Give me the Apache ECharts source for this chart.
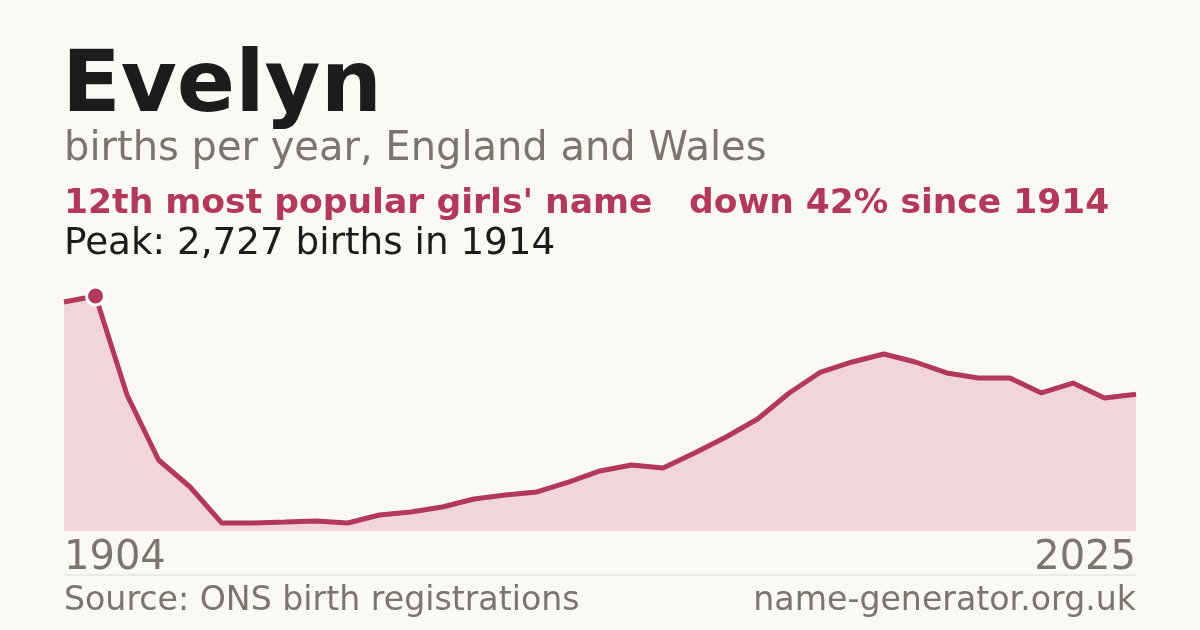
<!DOCTYPE html>
<html>
<head>
<meta charset="utf-8">
<script src="https://cdn.jsdelivr.net/npm/echarts@6/dist/echarts.min.js"></script>
<style>
html,body{margin:0;padding:0;background:#faf9f4;}
#c{width:1200px;height:630px;}
</style>
</head>
<body>
<div id="c"></div>
<script>
const years = [1904,1914,1924,1934,1944,1954,1964,1974,1984,1994,
  2001,2002,2003,2004,2005,2006,2007,2008,2009,2010,2011,2012,2013,2014,2015,
  2016,2017,2018,2019,2020,2021,2022,2023,2024,2025];
const births = [2657,2727,1573,816,501,82,82,93,105,82,
  175,210,268,361,408,443,559,688,758,723,897,1084,1294,1597,1841,
  1958,2051,1958,1830,1771,1771,1597,1713,1538,1582];
const peakYear = 1914;
const xLabels = ['1904','2025'];

const ACCENT = '#b3395a';
const GREY = '#7a756d';
const FONT = 'DejaVu Sans';
const peakIdx = years.indexOf(peakYear);

const seriesData = births.map((v, i) => i === peakIdx ? {
  value: v, symbol: 'circle', symbolSize: 18,
  itemStyle: {color: ACCENT, borderColor: '#ffffff', borderWidth: 3}
} : {value: v, symbol: 'none'});

const chart = echarts.init(document.getElementById('c'), null, {renderer: 'canvas'});
chart.setOption({
  backgroundColor: '#faf9f4',
  animation: false,
  grid: {left: 64, right: 64, top: 296, bottom: 100},
  xAxis: {
    type: 'category', data: years.map(String), boundaryGap: false,
    axisLine: {show: true, lineStyle: {color: '#e0ddd6', width: 1}},
    axisTick: {show: false},
    axisLabel: {
      show: true, fontFamily: FONT, fontSize: 40, color: GREY, margin: 9,
      interval: (i, v) => xLabels.indexOf(v) >= 0,
      alignMinLabel: 'left', alignMaxLabel: 'right', showMinLabel: true, showMaxLabel: true
    },
    splitLine: {show: false}
  },
  yAxis: {type: 'value', min: 0, max: 2727, show: false, splitLine: {show: false}},
  series: [{
    type: 'line', data: seriesData, clip: false,
    lineStyle: {color: ACCENT, width: 5},
    itemStyle: {color: ACCENT},
    areaStyle: {color: '#f1d5db', opacity: 1},
    showSymbol: true, z: 3
  }],
  graphic: [
    {type: 'text', left: 62, top: 46, style: {text: 'Evelyn', font: 'bold 86px "DejaVu Sans"', fill: '#1c1c1c'}},
    {type: 'text', left: 64, top: 130, style: {text: 'births per year, England and Wales', font: '40px "DejaVu Sans"', fill: GREY}},
    {type: 'text', left: 64, top: 187, style: {text: "12th most popular girls' name", font: 'bold 34.6px "DejaVu Sans"', fill: ACCENT}},
    {type: 'text', left: 689, top: 187, style: {text: 'down 42% since 1914', font: 'bold 34.5px "DejaVu Sans"', fill: ACCENT}},
    {type: 'text', left: 64, top: 226, style: {text: 'Peak: 2,727 births in 1914', font: '37.3px "DejaVu Sans"', fill: '#1c1c1c'}},
    {type: 'line', shape: {x1: 64, y1: 575, x2: 1136, y2: 575}, style: {stroke: '#e0ddd6', lineWidth: 1}},
    {type: 'text', left: 64, top: 585, style: {text: 'Source: ONS birth registrations', font: '33.2px "DejaVu Sans"', fill: GREY}},
    {type: 'text', right: 64, top: 585, style: {text: 'name-generator.org.uk', font: '33.2px "DejaVu Sans"', fill: GREY}}
  ]
});
</script>
</body>
</html>
